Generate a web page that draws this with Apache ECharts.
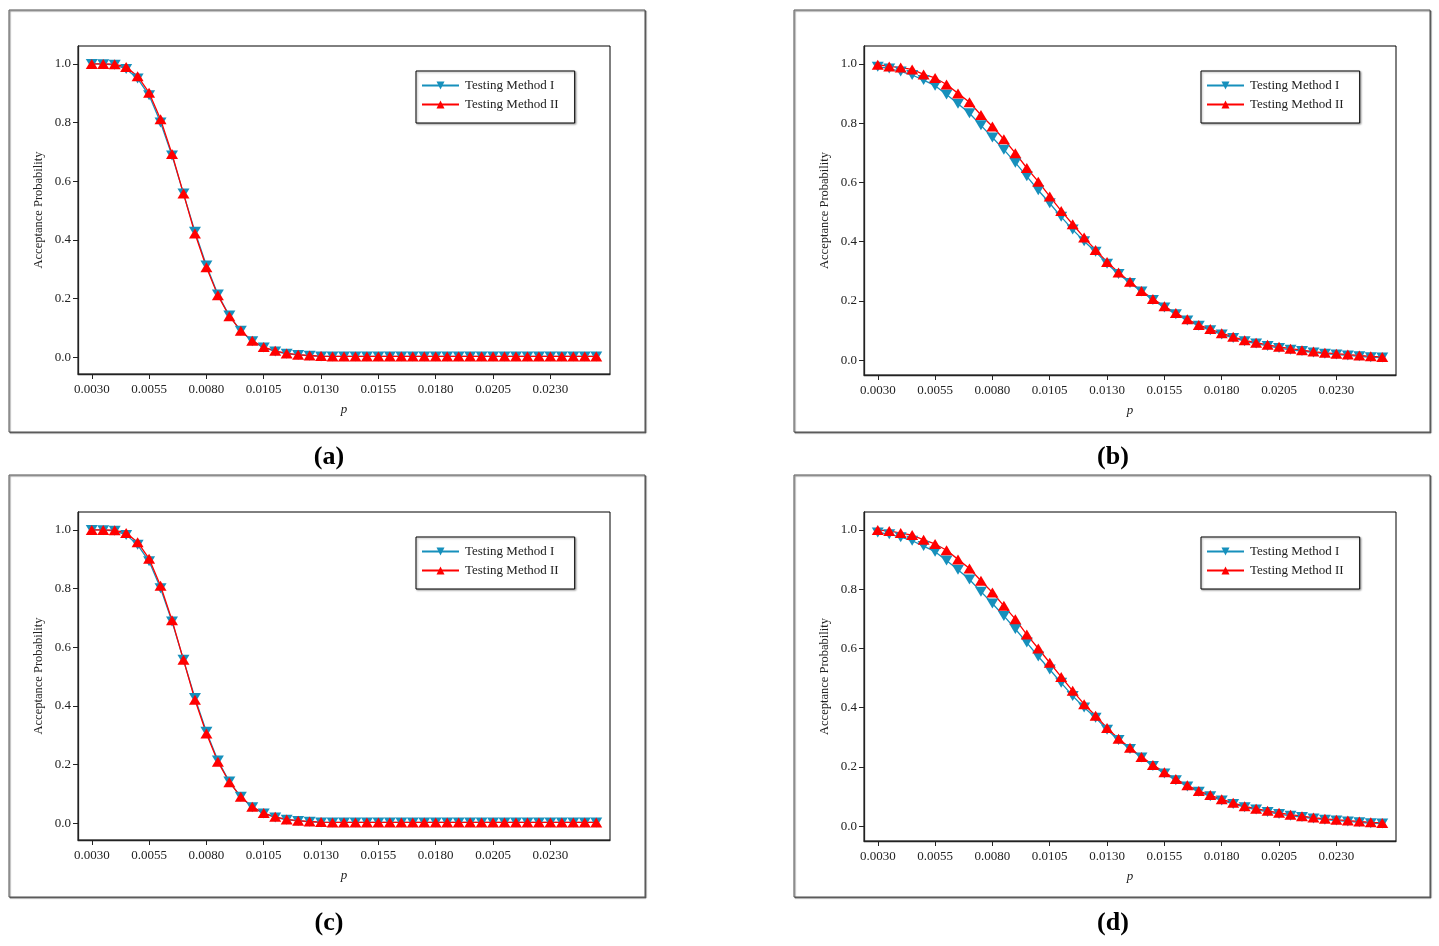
<!DOCTYPE html>
<html>
<head>
<meta charset="utf-8">
<style>
  html, body { margin: 0; padding: 0; background: #fff; }
  #main { width: 1439px; height: 946px; }
</style>
<script src="https://cdn.jsdelivr.net/npm/echarts@6/dist/echarts.min.js"></script>
</head>
<body>
<div id="main"></div>
<script>
// p values (x axis)
var p = [0.0030, 0.0035, 0.0040, 0.0045, 0.0050, 0.0055, 0.0060, 0.0065, 0.0070, 0.0075,
         0.0080, 0.0085, 0.0090, 0.0095, 0.0100, 0.0105, 0.0110, 0.0115, 0.0120, 0.0125,
         0.0130, 0.0135, 0.0140, 0.0145, 0.0150, 0.0155, 0.0160, 0.0165, 0.0170, 0.0175,
         0.0180, 0.0185, 0.0190, 0.0195, 0.0200, 0.0205, 0.0210, 0.0215, 0.0220, 0.0225,
         0.0230, 0.0235, 0.0240, 0.0245, 0.0250];

var xTicks = [0.0030, 0.0055, 0.0080, 0.0105, 0.0130, 0.0155, 0.0180, 0.0205, 0.0230];
var yTicks = [0, 0.2, 0.4, 0.6, 0.8, 1.0];

// panel (a)
var aI  = [1.000, 0.999, 0.997, 0.983, 0.950, 0.893, 0.800, 0.688, 0.558, 0.428,
           0.313, 0.214, 0.142, 0.090, 0.055, 0.033, 0.020, 0.012, 0.008, 0.005,
           0.003, 0.003, 0.003, 0.003, 0.003, 0.003, 0.003, 0.003, 0.003, 0.003,
           0.003, 0.003, 0.003, 0.003, 0.003, 0.003, 0.003, 0.003, 0.003, 0.003,
           0.003, 0.003, 0.003, 0.003, 0.003];
var aII = [1.000, 1.000, 0.999, 0.989, 0.958, 0.902, 0.811, 0.693, 0.558, 0.422,
           0.307, 0.211, 0.140, 0.090, 0.056, 0.035, 0.022, 0.013, 0.009, 0.006,
           0.004, 0.003, 0.003, 0.003, 0.003, 0.003, 0.003, 0.003, 0.003, 0.003,
           0.003, 0.003, 0.003, 0.003, 0.003, 0.003, 0.003, 0.003, 0.003, 0.003,
           0.003, 0.003, 0.003, 0.003, 0.003];

// panel (b)
var bI  = [0.991, 0.985, 0.975, 0.963, 0.946, 0.927, 0.897, 0.866, 0.834, 0.793,
           0.752, 0.711, 0.667, 0.621, 0.574, 0.530, 0.484, 0.441, 0.402, 0.366,
           0.326, 0.291, 0.261, 0.232, 0.203, 0.178, 0.155, 0.134, 0.116, 0.101,
           0.087, 0.075, 0.064, 0.056, 0.048, 0.041, 0.035, 0.031, 0.026, 0.022,
           0.019, 0.016, 0.013, 0.010, 0.009];
var bII = [0.998, 0.992, 0.988, 0.982, 0.965, 0.953, 0.931, 0.901, 0.871, 0.828,
           0.789, 0.746, 0.699, 0.649, 0.603, 0.553, 0.504, 0.459, 0.414, 0.372,
           0.332, 0.296, 0.265, 0.234, 0.207, 0.182, 0.159, 0.138, 0.119, 0.105,
           0.091, 0.079, 0.067, 0.059, 0.052, 0.045, 0.039, 0.034, 0.029, 0.025,
           0.022, 0.019, 0.016, 0.013, 0.011];

// panel (c)
var cI  = [1.000, 0.999, 0.997, 0.983, 0.949, 0.893, 0.801, 0.688, 0.557, 0.427,
           0.312, 0.214, 0.142, 0.090, 0.055, 0.033, 0.020, 0.012, 0.008, 0.005,
           0.003, 0.003, 0.003, 0.003, 0.003, 0.003, 0.003, 0.003, 0.003, 0.003,
           0.003, 0.003, 0.003, 0.003, 0.003, 0.003, 0.003, 0.003, 0.003, 0.003,
           0.003, 0.003, 0.003, 0.003, 0.003];
var cII = [1.000, 1.000, 0.999, 0.989, 0.958, 0.902, 0.810, 0.692, 0.557, 0.421,
           0.306, 0.210, 0.140, 0.090, 0.056, 0.035, 0.022, 0.013, 0.009, 0.006,
           0.004, 0.003, 0.003, 0.003, 0.003, 0.003, 0.003, 0.003, 0.003, 0.003,
           0.003, 0.003, 0.003, 0.003, 0.003, 0.003, 0.003, 0.003, 0.003, 0.003,
           0.003, 0.003, 0.003, 0.003, 0.003];

// panel (d)
var dI  = [0.992, 0.986, 0.976, 0.964, 0.946, 0.927, 0.897, 0.866, 0.833, 0.792,
           0.752, 0.710, 0.666, 0.620, 0.573, 0.529, 0.484, 0.440, 0.401, 0.366,
           0.326, 0.291, 0.261, 0.232, 0.203, 0.178, 0.155, 0.134, 0.116, 0.101,
           0.087, 0.075, 0.064, 0.056, 0.048, 0.041, 0.035, 0.031, 0.026, 0.022,
           0.019, 0.016, 0.013, 0.010, 0.009];
var dII = [1.000, 0.997, 0.990, 0.983, 0.967, 0.953, 0.932, 0.901, 0.870, 0.829,
           0.789, 0.744, 0.699, 0.647, 0.600, 0.552, 0.504, 0.457, 0.412, 0.373,
           0.332, 0.295, 0.265, 0.234, 0.207, 0.182, 0.159, 0.138, 0.119, 0.105,
           0.091, 0.079, 0.067, 0.059, 0.052, 0.045, 0.039, 0.034, 0.029, 0.025,
           0.022, 0.019, 0.016, 0.013, 0.011];

var panelNames = ['(a)', '(b)', '(c)', '(d)'];
var seriesI = [aI, bI, cI, dI];
var seriesII = [aII, bII, cII, dII];

var BLUE = '#1690bc';
var RED = '#ff0000';
var FONT = 'Liberation Serif';

// layout of each panel (pixels)
var layout = [
  { grid: [78, 46, 532, 328],  box: [9, 10],   legend: [416, 71],   label: [329, 457], ymin: -0.057 },
  { grid: [864, 46, 532, 329], box: [794, 10], legend: [1201, 71],  label: [1113, 457], ymin: -0.050 },
  { grid: [78, 512, 532, 328], box: [9, 475],  legend: [416, 537],  label: [329, 923], ymin: -0.057 },
  { grid: [864, 512, 532, 329], box: [794, 475], legend: [1201, 537], label: [1113, 923], ymin: -0.050 }
];

var grids = [], xAxes = [], yAxes = [], legends = [], series = [], graphics = [];

layout.forEach(function (L, i) {
  grids.push({
    left: L.grid[0], top: L.grid[1], width: L.grid[2], height: L.grid[3],
    show: true, borderColor: '#000', borderWidth: 1, backgroundColor: '#fff'
  });
  xAxes.push({
    type: 'value', gridIndex: i,
    min: 0.0024, max: 0.0256,
    name: 'p', nameLocation: 'middle', nameGap: 29,
    nameTextStyle: { fontFamily: FONT, fontStyle: 'italic', fontSize: 13, color: '#222' },
    axisLine: { show: true, onZero: false, lineStyle: { color: '#222', width: 1.3 } },
    axisTick: { show: true, length: 5, customValues: xTicks, lineStyle: { color: '#222' } },
    axisLabel: {
      customValues: xTicks, margin: 9,
      fontFamily: FONT, fontSize: 13, color: '#222',
      formatter: function (v) { return v.toFixed(4); }
    },
    splitLine: { show: false }
  });
  yAxes.push({
    type: 'value', gridIndex: i,
    min: L.ymin, max: 1.061,
    name: 'Acceptance Probability', nameLocation: 'middle', nameGap: 33,
    nameTextStyle: { fontFamily: FONT, fontSize: 12.5, color: '#222' },
    axisLine: { show: true, onZero: false, lineStyle: { color: '#222', width: 1.3 } },
    axisTick: { show: true, length: 5, customValues: yTicks, lineStyle: { color: '#222' } },
    axisLabel: {
      customValues: yTicks, margin: 7,
      fontFamily: FONT, fontSize: 13, color: '#222',
      formatter: function (v) { return v.toFixed(1); }
    },
    splitLine: { show: false }
  });
  legends.push({
    orient: 'vertical', left: L.legend[0], top: L.legend[1],
    data: ['Testing Method I', 'Testing Method II'],
    itemWidth: 37, itemHeight: 10, itemGap: 6,
    padding: [8, 16, 12, 5],
    borderColor: '#000', borderWidth: 1, backgroundColor: '#fff',
    shadowColor: 'rgba(0,0,0,0.35)', shadowBlur: 2, shadowOffsetX: 1, shadowOffsetY: 1,
    selectedMode: false,
    textStyle: { fontFamily: FONT, fontSize: 13, color: '#222', padding: [0, 0, 0, 1] }
  });
  series.push({
    name: 'Testing Method I', type: 'line', xAxisIndex: i, yAxisIndex: i,
    data: p.map(function (x, j) { return [x, seriesI[i][j]]; }),
    symbol: 'triangle', symbolRotate: 180, symbolSize: [12, 10],
    lineStyle: { color: BLUE, width: 1.3 },
    itemStyle: { color: BLUE },
    animation: false
  });
  series.push({
    name: 'Testing Method II', type: 'line', xAxisIndex: i, yAxisIndex: i,
    data: p.map(function (x, j) { return [x, seriesII[i][j]]; }),
    symbol: 'triangle', symbolSize: [12, 10],
    lineStyle: { color: RED, width: 1.3 },
    itemStyle: { color: RED },
    animation: false
  });
  // panel frame
  graphics.push({
    type: 'rect', z: -10,
    shape: { x: L.box[0], y: L.box[1], width: 636, height: 422 },
    style: { fill: '#fff', stroke: '#555', lineWidth: 1,
             shadowColor: 'rgba(0,0,0,0.5)', shadowOffsetX: 1, shadowOffsetY: 1, shadowBlur: 1 }
  });
  graphics.push({
    type: 'text', x: L.label[0], y: L.label[1],
    style: { text: panelNames[i], font: 'bold 26px "Liberation Serif"', fill: '#000',
             align: 'center', verticalAlign: 'middle' }
  });
});

var chart = echarts.init(document.getElementById('main'));
chart.setOption({
  backgroundColor: '#fff',
  animation: false,
  grid: grids,
  xAxis: xAxes,
  yAxis: yAxes,
  legend: legends,
  series: series,
  graphic: graphics
});
</script>
</body>
</html>
